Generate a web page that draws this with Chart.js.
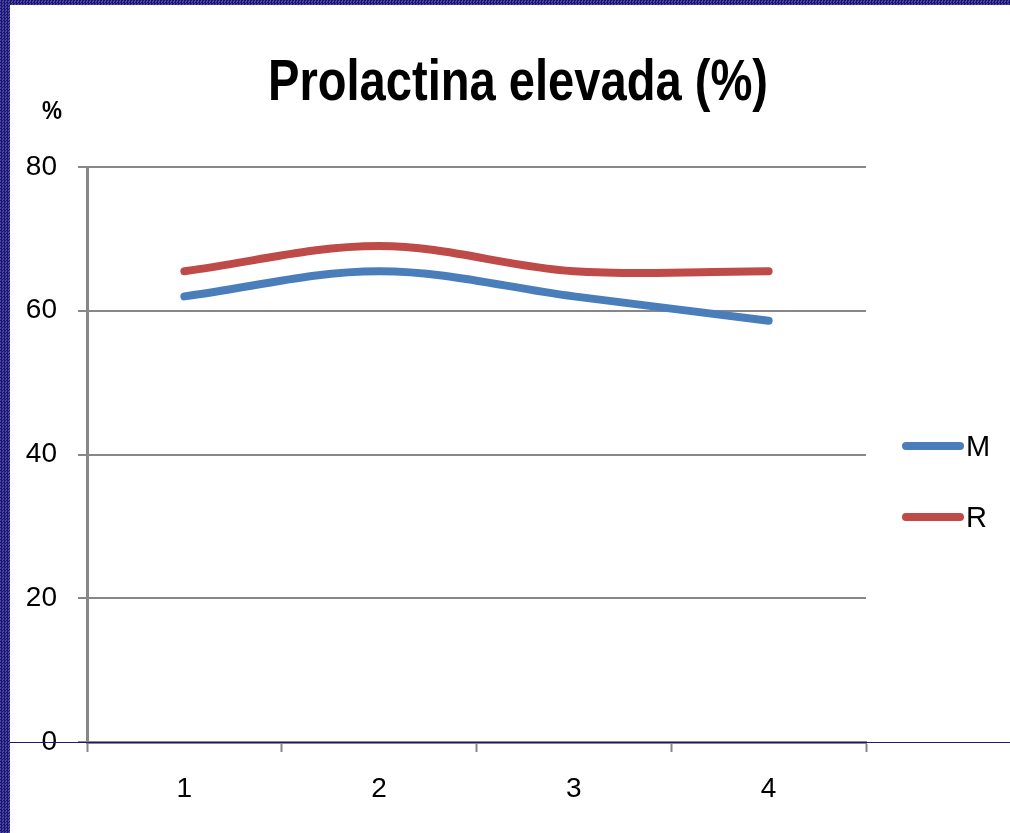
<!DOCTYPE html>
<html>
<head>
<meta charset="utf-8">
<script src="https://cdn.jsdelivr.net/npm/chart.js@4"></script>
<style>
  html, body { margin: 0; padding: 0; background: #fff; }
  #wrap { position: relative; width: 1010px; height: 833px; overflow: hidden; }
  canvas { position: absolute; left: 0; top: 0; }
  .edge {
    position: absolute;
    background-color: #201a80;
    background-image: repeating-conic-gradient(#1b1572 0 25%, #4a45a0 0 50%);
    background-size: 3px 3px;
  }
  #edgeLeft { left: 0; top: 0; width: 10px; height: 833px; }
  #edgeTop { left: 0; top: 0; width: 1010px; height: 5px; }
</style>
</head>
<body>
<div id="wrap">
  <canvas id="chart" width="1010" height="833"></canvas>
  <div class="edge" id="edgeLeft"></div>
  <div class="edge" id="edgeTop"></div>
</div>
<script>
// --- data ---
const categories = ['1', '2', '3', '4'];
const seriesM = [62.0, 65.5, 62.0, 58.6];
const seriesR = [65.5, 69.0, 65.5, 65.5];
const yTicks = [0, 20, 40, 60, 80];

const FONT = '"Liberation Sans", Arial, sans-serif';
const GRID = '#878787';

// draw text squeezed horizontally to a target width (narrow look)
function narrowText(ctx, text, cx, y, width) {
    const w = ctx.measureText(text).width;
    const k = Math.min(1, width / w);
    ctx.save();
    ctx.translate(cx, y);
    ctx.scale(k, 1);
    ctx.textAlign = 'center';
    ctx.fillText(text, 0, 0);
    ctx.restore();
}

// title, the "%" unit, the legend and the navy base line
const decorations = {
    id: 'decorations',
    afterDraw(chart) {
        const { ctx, scales } = chart;
        ctx.save();
        ctx.fillStyle = '#000';
        ctx.textBaseline = 'alphabetic';
        ctx.font = `bold 58px ${FONT}`;
        narrowText(ctx, 'Prolactina elevada (%)', 518, 100, 500);

        ctx.font = `bold 26px ${FONT}`;
        narrowText(ctx, '%', 52, 119, 20);

        // thin line through the zero level, across the full width
        const y0 = Math.round(scales.y.getPixelForValue(0)) + 0.5;
        ctx.strokeStyle = '#1e1878';
        ctx.lineWidth = 1;
        ctx.beginPath();
        ctx.moveTo(0, y0);
        ctx.lineTo(chart.width, y0);
        ctx.stroke();

        // legend on the right
        const rows = [446, 517];
        chart.data.datasets.forEach((ds, i) => {
            const y = rows[i];
            ctx.strokeStyle = ds.borderColor;
            ctx.lineWidth = 8;
            ctx.lineCap = 'round';
            ctx.beginPath();
            ctx.moveTo(906, y);
            ctx.lineTo(960, y);
            ctx.stroke();
            ctx.fillStyle = '#000';
            ctx.textAlign = 'left';
            ctx.textBaseline = 'middle';
            ctx.font = `29px ${FONT}`;
            ctx.fillText(ds.label, 966, y + 2);
        });
        ctx.restore();
    }
};

new Chart(document.getElementById('chart'), {
    type: 'line',
    data: {
        labels: categories,
        datasets: [
            {
                label: 'M',
                data: seriesM,
                borderColor: '#4a7ebb',
                borderWidth: 8,
                borderCapStyle: 'round',
                tension: 0.35,
                pointRadius: 0,
                fill: false
            },
            {
                label: 'R',
                data: seriesR,
                borderColor: '#be4b48',
                borderWidth: 8,
                borderCapStyle: 'round',
                tension: 0.35,
                pointRadius: 0,
                fill: false
            }
        ]
    },
    options: {
        responsive: false,
        animation: false,
        layout: { padding: { top: 167, right: 144, bottom: 0, left: 0 } },
        plugins: {
            legend: { display: false },
            title: { display: false },
            tooltip: { enabled: false }
        },
        scales: {
            x: {
                offset: true,
                grid: {
                    offset: true,
                    drawOnChartArea: false,
                    drawTicks: true,
                    tickLength: 10,
                    tickWidth: 2,
                    tickColor: GRID
                },
                border: { display: true, color: GRID, width: 3 },
                ticks: {
                    color: '#000',
                    font: { family: FONT, size: 28 },
                    padding: 20
                },
                afterFit: s => { s.height = 91; }
            },
            y: {
                min: 0,
                max: 80,
                afterBuildTicks: s => { s.ticks = yTicks.map(v => ({ value: v })); },
                grid: {
                    color: GRID,
                    lineWidth: 2,
                    drawTicks: true,
                    tickLength: 9,
                    tickColor: GRID
                },
                border: { display: true, color: GRID, width: 3 },
                ticks: {
                    color: '#000',
                    font: { family: FONT, size: 28 },
                    padding: 21
                },
                afterFit: s => { s.width = 87; }
            }
        }
    },
    plugins: [decorations]
});
</script>
</body>
</html>
